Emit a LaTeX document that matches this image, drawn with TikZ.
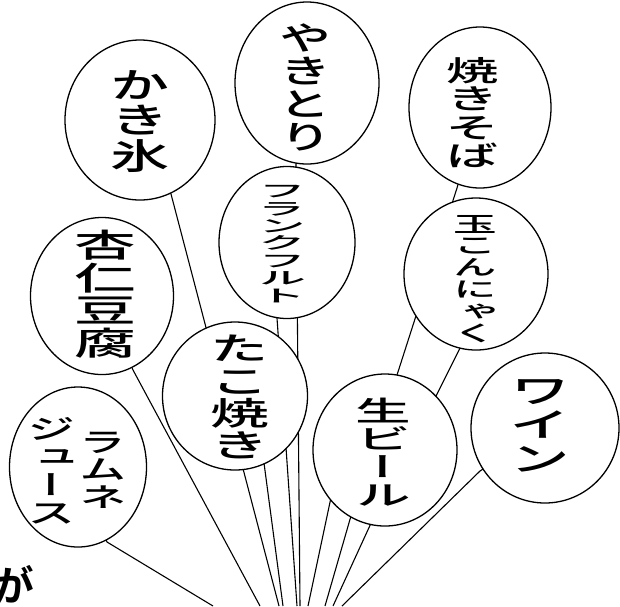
\documentclass[tikz,border=0pt]{standalone}
\usepackage{fontspec}
\usepackage{graphicx}
\usetikzlibrary{shapes.geometric}
\newfontfamily\jp[RawFeature=+vert,UprightFont=* Medium,BoldFont=* Bold]{Noto Sans CJK JP}
\newcommand\vstk[3]{\scalebox{#2}[1]{\fontsize{#1pt}{#1pt}\selectfont\jp\vbox{\halign{\hfil##\hfil\cr#3}}}}
\pgfdeclarelayer{bg}
\pgfsetlayers{bg,main}
\begin{document}
\begin{tikzpicture}[x=1pt,y=-1pt,
  balloon/.style={ellipse,draw,fill=white,line width=1.3pt,inner sep=0pt},
  txt/.style={inner sep=0pt},
  str/.style={line width=1.1pt}]
\useasboundingbox (0,0) rectangle (620,606);
% balloons
\node[balloon,minimum width=150pt,minimum height=160pt] (kakigori) at (140,120) {};
\node[balloon,minimum width=144pt,minimum height=162pt] (yakitori) at (307,83) {};
\node[balloon,minimum width=142pt,minimum height=161pt] (yakisoba) at (480,107.5) {};
\node[balloon,minimum width=136pt,minimum height=152pt] (frank) at (287,242.5) {};
\node[balloon,minimum width=144pt,minimum height=152pt] (tamakon) at (476,274) {};
\node[balloon,minimum width=143pt,minimum height=157pt] (annin) at (102,296) {};
\node[balloon,minimum width=145pt,minimum height=148pt] (takoyaki) at (235,396) {};
\node[balloon,minimum width=144pt,minimum height=152pt] (namabeer) at (385,450) {};
\node[balloon,minimum width=148pt,minimum height=150pt] (wine) at (545,428) {};
\node[balloon,minimum width=137pt,minimum height=160pt] (ramune) at (78,467) {};
% texts
\node[txt] (t-kakigori) at (140,121.5) {\vstk{35.5}{1.66}{か\cr き\cr 氷\cr}};
\node[txt] (t-yakitori) at (306,87.3) {\vstk{33}{1.58}{や\cr き\cr と\cr り\cr}};
\node[txt] (t-yakisoba) at (473,112.5) {\vstk{28.5}{1.84}{焼\cr き\cr そ\cr ば\cr}};
\node[txt] (t-frank) at (282,244) {\vstk{17.4}{2.75}{フ\cr ラ\cr ン\cr ク\cr フ\cr ル\cr ト\cr}};
\node[txt] (t-tamakon) at (475,278.7) {\vstk{21.8}{2.0}{玉\cr こ\cr ん\cr に\cr ゃ\cr く\cr}};
\node[txt] (t-annin) at (105,294) {\vstk{32.5}{1.9}{杏\cr 仁\cr 豆\cr 腐\cr}};
\node[txt] (t-takoyaki) at (240,397) {\vstk{32.2}{1.83}{た\cr こ\cr 焼\cr き\cr}};
\node[txt] (t-namabeer) at (383.5,452) {\vstk{27.8}{2.0}{生\cr ビ\cr ー\cr ル\cr}};
\node[txt] (t-wine) at (540.5,426) {\vstk{34}{1.8}{ワ\cr イ\cr ン\cr}};
\node[txt] (t-ramune) at (103,470) {\vstk{27.3}{1.74}{ラ\cr ム\cr ネ\cr}};
\node[txt] (t-jusu) at (52,471) {\vstk{27.8}{1.74}{ジ\cr ュ\cr ー\cr ス\cr}};
\node[txt] (ga) at (14,584) {\fontsize{42pt}{42pt}\selectfont\jp\bfseries が};
% strings
\begin{pgfonlayer}{bg}
\coordinate (a-ramune) at (107,542);   \coordinate (b-ramune) at (213,606);
\coordinate (a-annin) at (133,370);    \coordinate (b-annin) at (260,606);
\coordinate (a-kakigori) at (171,194); \coordinate (b-kakigori) at (279,606);
\coordinate (a-takoyaki) at (264,463); \coordinate (b-takoyaki) at (283,606);
\coordinate (a-frank) at (277,318);    \coordinate (b-frank) at (297,606);
\coordinate (a-yakitori) at (296,164); \coordinate (b-yakitori) at (300,606);
\coordinate (a-yakisoba) at (457,188); \coordinate (m1-yakisoba) at (397,375);
\coordinate (m2-yakisoba) at (340,455); \coordinate (b-yakisoba) at (308,606);
\coordinate (a-tamakon) at (460,348);  \coordinate (m1-tamakon) at (435,398);
\coordinate (m2-tamakon) at (370,450); \coordinate (b-tamakon) at (325,606);
\coordinate (a-namabeer) at (400,460); \coordinate (b-namabeer) at (333,606);
\coordinate (a-wine) at (480,471);     \coordinate (b-wine) at (342,606);
\draw[str] (ramune.center) -- (a-ramune) -- (b-ramune);
\draw[str] (annin.center) -- (a-annin) -- (b-annin);
\draw[str] (kakigori.center) -- (a-kakigori) -- (b-kakigori);
\draw[str] (takoyaki.center) -- (a-takoyaki) -- (b-takoyaki);
\draw[str] (frank.center) -- (a-frank) -- (b-frank);
\draw[str] (yakitori.center) -- (a-yakitori) -- (b-yakitori);
\draw[str] (yakisoba.center) -- (a-yakisoba) -- (m1-yakisoba) -- (m2-yakisoba) -- (b-yakisoba);
\draw[str] (tamakon.center) -- (a-tamakon) -- (m1-tamakon) -- (m2-tamakon) -- (b-tamakon);
\draw[str] (namabeer.center) -- (a-namabeer) -- (b-namabeer);
\draw[str] (wine.center) -- (a-wine) -- (b-wine);
\end{pgfonlayer}
\end{tikzpicture}
\end{document}
